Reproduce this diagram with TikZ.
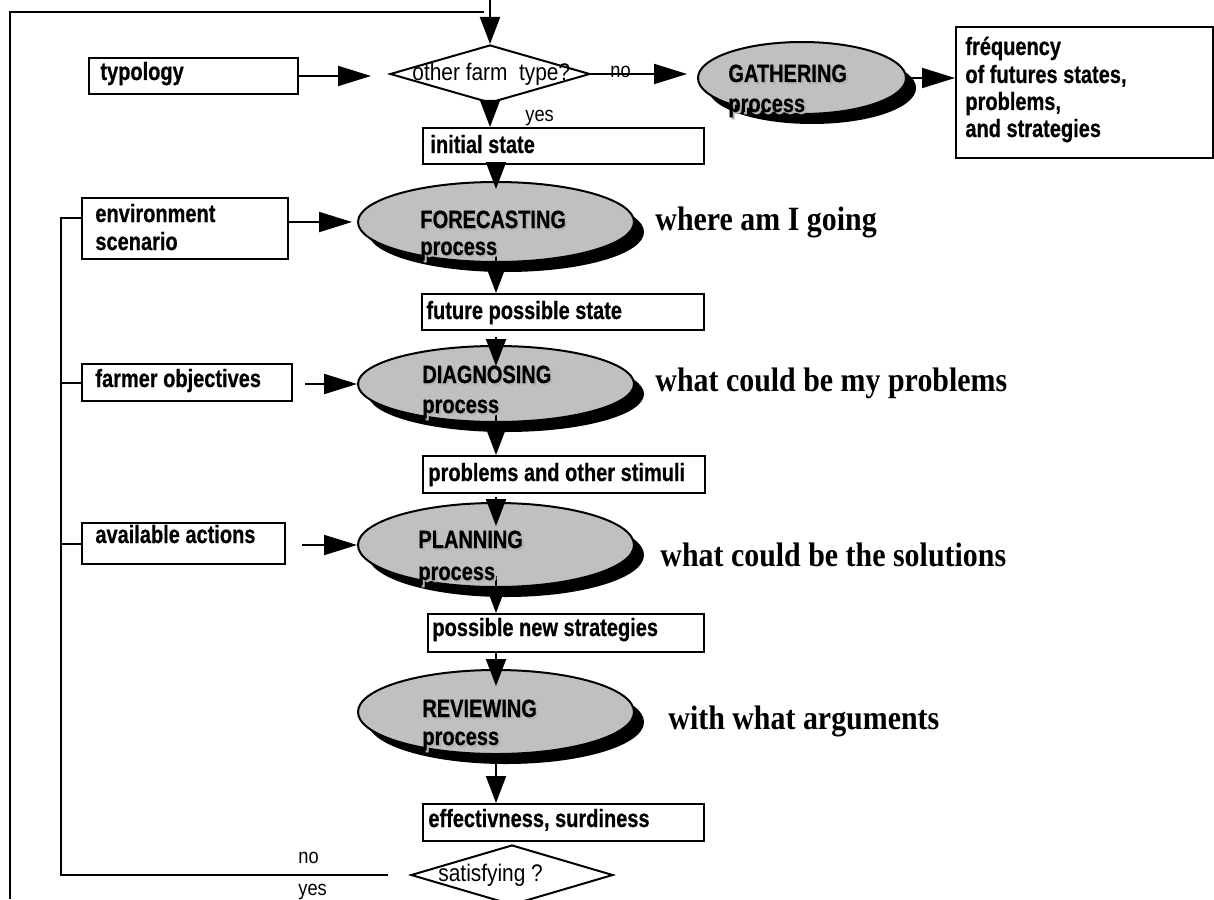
\documentclass[tikz,border=0pt]{standalone}
\usepackage{fontspec}
\setmainfont{Liberation Sans}
\newfontfamily\nar[FakeStretch=0.87]{Liberation Sans}
\newfontfamily\narb[FakeStretch=0.8, BoldFeatures={FakeBold=0.6}]{Liberation Sans}
\newfontfamily\tms[FakeStretch=0.88]{Liberation Serif}
\usetikzlibrary{arrows.meta,shapes.geometric,shadows,calc}
\definecolor{silver}{HTML}{C0C0C0}
\newcommand\pl[4]{%
  \node[plbl, text=gray!60] (#1s) at (#2+2,#3+2) {#4};
  \node[plbl] (#1) at (#2,#3) {#4};}
\begin{document}
\begin{tikzpicture}[x=0.5pt,y=-0.5pt,
  line/.style={line width=1pt},
  box/.style={draw, line width=1pt, inner sep=0, anchor=north west},
  proc/.style={ellipse, draw, line width=1pt, fill=silver, inner sep=0,
    drop shadow={shadow xshift=5pt, shadow yshift=-5pt, fill=black, opacity=1}},
  dec/.style={diamond, draw, line width=1pt, inner sep=0, fill=white},
  arrV/.style={line width=1pt, -{Triangle[length=13.5pt,width=10pt]}},
  arrH/.style={line width=1pt, -{Triangle[length=16.5pt,width=10pt]}},
  lbl/.style={anchor=base west, inner sep=0, font=\fontsize{12.5}{14}\selectfont\narb\bfseries},
  plbl/.style={anchor=base west, inner sep=0, font=\fontsize{12.5}{14}\selectfont\narb\bfseries},
  qlbl/.style={anchor=base west, inner sep=0, font=\fontsize{12}{14}\selectfont\nar},
  yn/.style={anchor=base west, inner sep=0, font=\fontsize{10.5}{12}\selectfont\nar},
  big/.style={anchor=base west, inner sep=0, font=\fontsize{17}{20}\selectfont\tms\bfseries},
]
\useasboundingbox (0,0) rectangle (1214,899);

% boxes
\node[box, minimum width=104.5pt, minimum height=18pt] (typ) at (88,57) {};
\node[box, minimum width=128.5pt, minimum height=65.5pt] (freq) at (955,26) {};
\node[box, minimum width=140.5pt, minimum height=18pt] (init) at (422,127) {};
\node[box, minimum width=103pt, minimum height=30.5pt] (env) at (81,197) {};
\node[box, minimum width=141pt, minimum height=18pt] (future) at (421,293) {};
\node[box, minimum width=105pt, minimum height=18.5pt] (farm) at (81,363) {};
\node[box, minimum width=141pt, minimum height=18.5pt] (prob) at (422,455) {};
\node[box, minimum width=101.5pt, minimum height=20.5pt] (avail) at (81,522) {};
\node[box, minimum width=138pt, minimum height=19pt] (poss) at (427,613) {};
\node[box, minimum width=140.5pt, minimum height=18.5pt] (eff) at (422,803) {};

% decisions
\node[dec, minimum width=100pt, minimum height=29pt] (dia1) at (490,74) {};
\node[dec, minimum width=101pt, minimum height=30pt] (sat) at (512,875) {};

% processes
\node[proc, minimum width=104pt, minimum height=36pt] (gath) at (802,78) {};
\node[proc, minimum width=138pt, minimum height=40pt] (fore) at (496,222) {};
\node[proc, minimum width=138pt, minimum height=38pt] (diag) at (496,384) {};
\node[proc, minimum width=138pt, minimum height=42pt] (plan) at (496,545) {};
\node[proc, minimum width=138pt, minimum height=42pt] (rev) at (496,712) {};

% frame and loop
\coordinate (topin) at (490,0);
\coordinate (fr1) at (484,12);
\coordinate (fr2) at (10,12);
\coordinate (fr3) at (10,899);
\coordinate (tTop) at (61,218);
\draw[line] (fr1) -- (fr2) -- (fr3);
\draw[arrV] (topin) -- (dia1.north);
\draw[line] ([xshift=-11pt]sat.west) -- (sat.west -| tTop) -- (tTop) -- (tTop -| env.west);
\draw[line] (farm.west -| tTop) -- (farm.west);
\draw[line] (avail.west -| tTop) -- (avail.west);

% horizontal arrows
\draw[arrH, shorten >=9pt] (typ.east) -- (typ.east -| dia1.west);
\draw[arrH, shorten >=5pt] (dia1.east) -- (dia1.east -| gath.west);
\draw[arrH] (gath.east) -- (gath.east -| freq.west);
\draw[arrH, shorten >=2.5pt] (fore.west -| env.east) -- (fore.west);
\draw[arrH, shorten <=6pt] (diag.west -| farm.east) -- (diag.west);
\draw[arrH, shorten <=8pt] (plan.west -| avail.east) -- (plan.west);

% vertical arrows
\draw[arrV] (dia1.south) -- (dia1.south |- init.north);
\draw[arrV] (fore.north |- init.south) -- ($(fore.north)+(0,8)$);
\draw[arrV] ($(fore.south)+(0,-10)$) -- (fore.south |- future.north);
\draw[arrV] ($(diag.north |- future.south)+(0,6)$) -- ($(diag.north)+(0,21)$);
\draw[arrV] ($(diag.south)+(0,-10)$) -- (diag.south |- prob.north);
\draw[arrV] ($(plan.north |- prob.south)+(0,3)$) -- ($(plan.north)+(0,24)$);
\draw[arrV] ($(plan.south)+(0,-12)$) -- (plan.south |- poss.north);
\draw[arrV] (rev.north |- poss.south) -- ($(rev.north)+(0,17)$);
\draw[arrV] (rev.south) -- (rev.south |- eff.north);

% box texts
\node[lbl] (ttyp) at (100,80) {typology};
\node[lbl] (tf1) at (965,55) {fréquency};
\node[lbl] (tf2) at (965,83) {of futures states,};
\node[lbl] (tf3) at (965,110) {problems,};
\node[lbl] (tf4) at (965,137) {and strategies};
\node[lbl] (tinit) at (430,153) {initial state};
\node[lbl] (tenv1) at (95,222) {environment};
\node[lbl] (tenv2) at (95,250) {scenario};
\node[lbl] (tfut) at (426,319) {future possible state};
\node[lbl] (tfarm) at (95,387) {farmer objectives};
\node[lbl] (tprob) at (428,481) {problems and other stimuli};
\node[lbl] (tavail) at (95,543) {available actions};
\node[lbl] (tposs) at (432,636) {possible new strategies};
\node[lbl] (teff) at (428,827) {effectivness, surdiness};

% decision texts and branch labels
\node[qlbl] (tdia1) at (412,81) {other farm\ \ type?};
\node[qlbl] (tsat) at (438,881) {satisfying ?};
\node[yn] (no1) at (610,78) {no};
\node[yn] (yes1) at (525,121) {yes};
\node[yn] (no2) at (298,863) {no};
\node[yn] (yes2) at (298,895) {yes};

% process texts
\pl{pg1}{728}{82}{GATHERING}
\pl{pg2}{728}{112}{process}
\pl{pf1}{420}{228}{FORECASTING}
\pl{pf2}{420}{255}{process}
\pl{pd1}{422}{383}{DIAGNOSING}
\pl{pd2}{422}{413}{process}
\pl{pp1}{418}{548}{PLANNING}
\pl{pp2}{418}{580}{process}
\pl{pr1}{422}{717}{REVIEWING}
\pl{pr2}{422}{745}{process}

% questions
\node[big] (q1) at (655,230) {where am I going};
\node[big] (q2) at (655,391) {what could be my problems};
\node[big] (q3) at (660,566) {what could be the solutions};
\node[big] (q4) at (668,729) {with what arguments};
\end{tikzpicture}
\end{document}
